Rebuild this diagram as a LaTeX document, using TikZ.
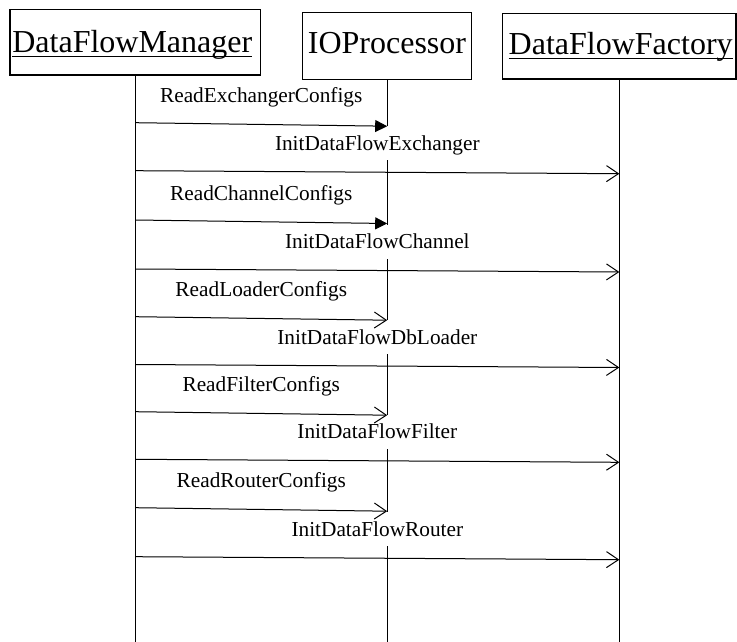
\documentclass[tikz,border=0pt]{standalone}
\usepackage{fontspec}
\setmainfont{Liberation Serif}
\usetikzlibrary{arrows.meta,calc}
% underline at a fixed distance below the baseline
\newcommand{\ulword}[1]{\setbox0\hbox{#1}\rlap{\rule[-4.7bp]{\wd0}{1.4bp}}\box0}
\begin{document}
\begin{tikzpicture}[x=1bp,y=-1bp,
  objbox/.style={draw,line width=1.4bp,fill=white,inner sep=0pt},
  objname/.style={inner sep=0pt,anchor=base,font=\fontsize{32bp}{38bp}\selectfont},
  lifeline/.style={line width=1.2bp},
  msglabel/.style={inner sep=0pt,anchor=base,font=\fontsize{21.3bp}{25bp}\selectfont},
  masklabel/.style={msglabel,fill=white,inner xsep=2bp,text height=24bp,text depth=10bp},
  callfilled/.style={line width=1bp,-{Triangle[length=12bp,width=12bp]}},
  callopen/.style={line width=1bp,-{Straight Barb[length=12bp,width=16bp,line width=1bp]}}]
\useasboundingbox (0,0) rectangle (737,642);

% object boxes
\node[objbox,minimum width=250.7bp,minimum height=65.7bp] (dfm) at (135.3,42.2) {};
\node[objbox,minimum width=169bp,minimum height=66.6bp] (iop) at (387.2,46) {};
\node[objbox,minimum width=233.3bp,minimum height=65.7bp] (dff) at (619.35,46.2) {};

% lifelines
\coordinate (dfmend) at (dfm.south |- 0,642);
\coordinate (iopend) at (iop.south |- 0,642);
\coordinate (dffend) at (dff.south |- 0,642);
\draw[lifeline] (dfm.south) -- (dfmend);
\draw[lifeline] (iop.south) -- (iopend);
\draw[lifeline] (dff.south) -- (dffend);

% message end points on the lifelines
\coordinate (r1s) at (dfm.south |- 0,122.7); \coordinate (r1e) at (iop.south |- 0,126.2);
\coordinate (i1s) at (dfm.south |- 0,170.7); \coordinate (i1e) at (dff.south |- 0,173.7);
\coordinate (r2s) at (dfm.south |- 0,220.0); \coordinate (r2e) at (iop.south |- 0,223.5);
\coordinate (i2s) at (dfm.south |- 0,269.0); \coordinate (i2e) at (dff.south |- 0,272.0);
\coordinate (r3s) at (dfm.south |- 0,316.7); \coordinate (r3e) at (iop.south |- 0,320.2);
\coordinate (i3s) at (dfm.south |- 0,364.5); \coordinate (i3e) at (dff.south |- 0,367.5);
\coordinate (r4s) at (dfm.south |- 0,411.7); \coordinate (r4e) at (iop.south |- 0,415.2);
\coordinate (i4s) at (dfm.south |- 0,459.3); \coordinate (i4e) at (dff.south |- 0,462.3);
\coordinate (r5s) at (dfm.south |- 0,507.7); \coordinate (r5e) at (iop.south |- 0,511.2);
\coordinate (i5s) at (dfm.south |- 0,556.7); \coordinate (i5e) at (dff.south |- 0,559.7);

% message labels
\node[msglabel] (r1l) at ($(r1s)!0.5!(r1e)+(0,-21.5)$) {ReadExchangerConfigs};
\node[masklabel] (i1l) at ($(i1s)!0.5!(i1e)+(0,-22)$) {InitDataFlowExchanger};
\node[msglabel] (r2l) at ($(r2s)!0.5!(r2e)+(0,-21.5)$) {ReadChannelConfigs};
\node[masklabel] (i2l) at ($(i2s)!0.5!(i2e)+(0,-22)$) {InitDataFlowChannel};
\node[msglabel] (r3l) at ($(r3s)!0.5!(r3e)+(0,-21.5)$) {ReadLoaderConfigs};
\node[masklabel] (i3l) at ($(i3s)!0.5!(i3e)+(0,-22)$) {InitDataFlowDbLoader};
\node[msglabel] (r4l) at ($(r4s)!0.5!(r4e)+(0,-21.5)$) {ReadFilterConfigs};
\node[masklabel] (i4l) at ($(i4s)!0.5!(i4e)+(0,-22)$) {InitDataFlowFilter};
\node[msglabel] (r5l) at ($(r5s)!0.5!(r5e)+(0,-21.5)$) {ReadRouterConfigs};
\node[masklabel] (i5l) at ($(i5s)!0.5!(i5e)+(0,-22)$) {InitDataFlowRouter};

% messages
\draw[callfilled] (r1s) -- (r1e);
\draw[callopen] (i1s) -- (i1e);
\draw[callfilled] (r2s) -- (r2e);
\draw[callopen] (i2s) -- (i2e);
\draw[callopen] (r3s) -- (r3e);
\draw[callopen] (i3s) -- (i3e);
\draw[callopen] (r4s) -- (r4e);
\draw[callopen] (i4s) -- (i4e);
\draw[callopen] (r5s) -- (r5e);
\draw[callopen] (i5s) -- (i5e);

% object names
\node[objname] (dfmt) at (132.3,52.7) {\ulword{DataFlowManager}};
\node[objname] (iopt) at (387,53.3) {IOProcessor};
\node[objname] (dfft) at (620.7,54.3) {\ulword{DataFlowFactory}};
\end{tikzpicture}
\end{document}
